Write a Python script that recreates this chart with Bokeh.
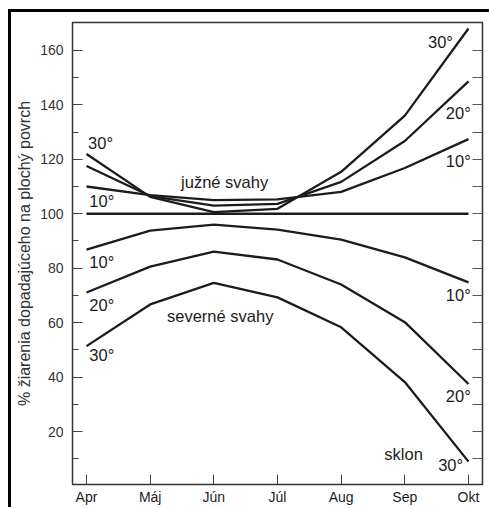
from bokeh.plotting import figure
from bokeh.models import FixedTicker, LinearAxis, ColumnDataSource
from bokeh.core.properties import value
from bokeh.embed import file_html
from bokeh.resources import INLINE

months = ["Apr", "Máj", "Jún", "Júl", "Aug", "Sep", "Okt"]
south_10 = [110.0, 106.8, 105.0, 105.3, 108.0, 116.8, 127.4]
south_20 = [117.5, 106.5, 103.0, 103.6, 111.7, 126.7, 148.6]
south_30 = [121.9, 106.2, 100.6, 101.8, 115.4, 136.0, 168.0]
flat = [100, 100, 100, 100, 100, 100, 100]
north_10 = [86.8, 93.8, 96.0, 94.2, 90.5, 84.0, 74.8]
north_20 = [71.1, 80.6, 86.1, 83.2, 74.0, 60.2, 37.5]
north_30 = [51.4, 66.7, 74.6, 69.3, 58.3, 38.2, 9.0]

y_major = [20, 40, 60, 80, 100, 120, 140, 160]
y_minor = [10, 30, 50, 70, 90, 110, 130, 150]
y_right = [10, 20, 30, 40, 50, 60, 70, 80, 90, 100, 110, 120, 130, 140, 150, 160]

label_text = ["30°", "10°", "južné svahy", "30°", "20°", "10°",
              "10°", "20°", "30°", "severné svahy", "10°", "20°", "30°", "sklon"]
label_x = [0.22, 0.24, 2.17, 5.56, 5.84, 5.84,
           0.24, 0.24, 0.24, 2.10, 5.84, 5.84, 5.72, 4.98]
label_y = [126.0, 104.8, 111.7, 162.9, 136.9, 119.4,
           82.1, 66.4, 48.1, 62.4, 70.0, 33.1, 7.9, 11.9]

FONT = "Liberation Sans"
INK = "#1c1c1c"

xs = list(range(len(months)))

W, H = 489, 507
p = figure(width=W, height=H, output_backend="svg", toolbar_location=None,
           x_range=(-0.22, 6.22), y_range=(0.6, 170.2),
           min_border_left=72, min_border_top=22, min_border_right=7, min_border_bottom=21)
# thick outer frame of the picture (left and top edges; it runs off the right/bottom)
p.styles = {"box-shadow": "inset 8px 9px 0 0 #ffffff, inset 11px 12px 0 0 #000000"}

p.xgrid.visible = False
p.ygrid.visible = False
p.outline_line_color = "#333333"
p.outline_line_width = 1.5
p.background_fill_color = "white"
p.border_fill_color = None

for series in [south_10, south_20, south_30, flat, north_10, north_20, north_30]:
    p.line(xs, series, line_color=INK, line_width=2.3)

src = ColumnDataSource(dict(x=label_x, y=label_y, t=label_text))
p.text(x="x", y="y", text="t", source=src, text_align="center", text_baseline="middle",
       text_font=value(FONT), text_font_size=value("16.5px"), text_color=INK)

# bottom axis
xa = p.xaxis[0]
xa.ticker = FixedTicker(ticks=xs)
xa.major_label_overrides = {i: m for i, m in enumerate(months)}
xa.axis_line_color = None
xa.major_tick_in = 10
xa.major_tick_out = 0
xa.minor_tick_in = 0
xa.minor_tick_out = 0
xa.major_tick_line_color = "#444444"
xa.major_label_text_font = FONT
xa.major_label_text_font_size = "14px"
xa.major_label_text_color = INK
xa.major_label_standoff = 4

# left axis
ya = p.yaxis[0]
ya.ticker = FixedTicker(ticks=y_major, minor_ticks=y_minor)
ya.axis_line_color = None
ya.major_tick_in = 10
ya.major_tick_out = 0
ya.minor_tick_in = 6
ya.minor_tick_out = 0
ya.major_tick_line_color = "#444444"
ya.minor_tick_line_color = "#444444"
ya.major_label_text_font = FONT
ya.major_label_text_font_size = "14px"
ya.major_label_text_color = "#333333"
ya.major_label_standoff = 9
ya.axis_label = "% žiarenia dopadajúceho na plochý povrch"
ya.axis_label_text_font = FONT
ya.axis_label_text_font_size = "16px"
ya.axis_label_text_font_style = "normal"
ya.axis_label_text_color = "#333333"
ya.axis_label_standoff = 4

# right axis: ticks only
ra = LinearAxis(ticker=FixedTicker(ticks=y_right))
ra.axis_line_color = None
ra.major_tick_in = 10
ra.major_tick_out = 0
ra.minor_tick_in = 0
ra.minor_tick_out = 0
ra.major_tick_line_color = "#555555"
ra.major_label_text_font_size = "0px"
ra.major_label_text_color = None
ra.major_label_standoff = 0
p.add_layout(ra, "right")

open("out.html", "w").write(file_html(p, INLINE))
